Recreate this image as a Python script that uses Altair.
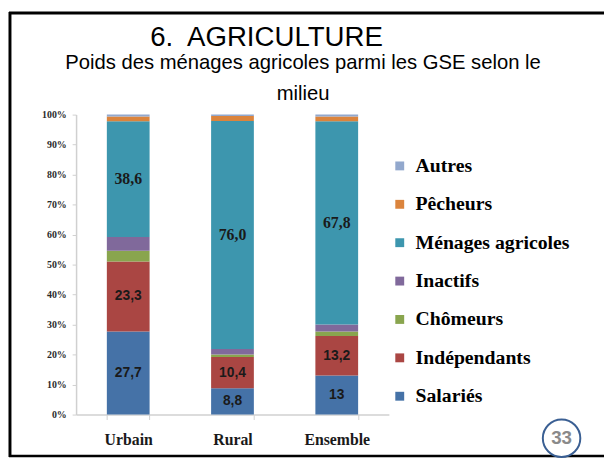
import altair as alt
import pandas as pd

# ---------------- data ----------------
MILIEUX = ["Urbain", "Rural", "Ensemble"]
# stacked from bottom to top
CATEGORIES = ["Salariés", "Indépendants", "Chômeurs", "Inactifs",
              "Ménages agricoles", "Pêcheurs", "Autres"]
URBAIN = [27.7, 23.3, 3.6, 4.6, 38.6, 1.6, 0.6]
RURAL = [8.8, 10.4, 0.8, 1.9, 76.0, 1.6, 0.5]
ENSEMBLE = [13.0, 13.2, 1.5, 2.3, 67.8, 1.6, 0.6]
LABELS_URBAIN = ["27,7", "23,3", "", "", "38,6", "", ""]
LABELS_RURAL = ["8,8", "10,4", "", "", "76,0", "", ""]
LABELS_ENSEMBLE = ["13", "13,2", "", "", "67,8", "", ""]
COLORS = ["#4572A7", "#AA4643", "#89A54E", "#80699B", "#3D96AE", "#DB843D", "#92A8CD"]
Y_TICKS = [0, 10, 20, 30, 40, 50, 60, 70, 80, 90, 100]

TITLE = "6.\u00a0 AGRICULTURE"
SUBTITLE = ["Poids des ménages agricoles parmi les GSE selon le", "milieu"]
PAGE_NUMBER = "33"

rows = []
for milieu, vals, labs in zip(MILIEUX, [URBAIN, RURAL, ENSEMBLE],
                              [LABELS_URBAIN, LABELS_RURAL, LABELS_ENSEMBLE]):
    for i, (cat, v, lab) in enumerate(zip(CATEGORIES, vals, labs)):
        rows.append({"milieu": milieu, "categorie": cat, "valeur": v,
                     "ordre": i, "label": lab})
df = pd.DataFrame(rows)
one = pd.DataFrame({"k": [0]})

# ---------------- chart ----------------
base = alt.Chart(df).transform_stack(
    stack="valeur", groupby=["milieu"], as_=["y0", "y1"],
    sort=[alt.SortField("ordre", order="ascending")]
).transform_calculate(mid="(datum.y0 + datum.y1) / 2")

x_axis = alt.Axis(title=None, labelAngle=0, labelFont="Liberation Serif",
                  labelFontWeight="bold", labelFontSize=16, labelColor="#1a1a1a",
                  labelBaseline="alphabetic", labelPadding=25, tickBand="extent",
                  tickSize=5, tickColor="#d0d0d0", domainColor="#d0d0d0",
                  domainWidth=1.5)
x_scale = alt.Scale(paddingInner=0.59, paddingOuter=0.295)

y_axis = alt.Axis(title=None, values=Y_TICKS, labelExpr="datum.value + '%'",
                  labelFont="Liberation Serif", labelFontWeight="bold",
                  labelFontSize=10, labelColor="#2a2a2a", tickSize=4,
                  tickColor="#d0d0d0", domainColor="#d0d0d0", labelOverlap=False,
                  domainWidth=1.5, labelPadding=6, grid=False)
y_scale = alt.Scale(domain=[0, 100], nice=False)

bars = base.mark_bar().encode(
    x=alt.X("milieu:N", sort=MILIEUX, title=None, scale=x_scale, axis=x_axis),
    y=alt.Y("y0:Q", title=None, scale=y_scale, axis=y_axis),
    y2="y1:Q",
    color=alt.Color("categorie:N",
                    scale=alt.Scale(domain=CATEGORIES[::-1], range=COLORS[::-1]),
                    legend=alt.Legend(title=None, orient="none", legendX=318, legendY=42,
                                      symbolType="square", symbolSize=81,
                                      symbolStrokeWidth=0,
                                      labelFont="Liberation Serif", labelFontWeight="bold",
                                      labelFontSize=20, labelColor="black", labelOffset=6,
                                      rowPadding=18.9, labelLimit=300, padding=0)),
)

labels_sans = base.transform_filter(
    "datum.label != '' && datum.categorie != 'Ménages agricoles'"
).mark_text(font="Liberation Sans", fontWeight="bold", fontSize=14,
            color="#1a1a1a", baseline="middle").encode(
    x=alt.X("milieu:N", sort=MILIEUX, title=None, scale=x_scale, axis=x_axis),
    y=alt.Y("mid:Q", title=None, scale=y_scale, axis=y_axis),
    text="label:N",
)

labels_serif = base.transform_filter(
    "datum.categorie == 'Ménages agricoles'"
).mark_text(font="Liberation Serif", fontWeight="bold", fontSize=16,
            color="#1a1a1a", baseline="middle").encode(
    x=alt.X("milieu:N", sort=MILIEUX, title=None, scale=x_scale, axis=x_axis),
    y=alt.Y("mid:Q", title=None, scale=y_scale, axis=y_axis),
    text="label:N",
)

title = alt.Chart(one).mark_text(font="Liberation Sans", fontSize=28, color="black",
                                 align="center", baseline="alphabetic").encode(
    x=alt.value(193), y=alt.value(-70), text=alt.value(TITLE))

subtitle = alt.Chart(one).mark_text(font="Liberation Sans", fontSize=20.5, color="black",
                                    align="center", baseline="alphabetic",
                                    lineHeight=31).encode(
    x=alt.value(230), y=alt.value(-46), text=alt.value(SUBTITLE))

frame_left = alt.Chart(one).mark_rule(color="black", strokeWidth=3).encode(
    x=alt.value(-67), y=alt.value(-104), y2=alt.value(347))
frame_top = alt.Chart(one).mark_rule(color="black", strokeWidth=3).encode(
    x=alt.value(-68), x2=alt.value(540), y=alt.value(-103))
frame_bottom = alt.Chart(one).mark_rule(color="black", strokeWidth=2.5).encode(
    x=alt.value(-68), x2=alt.value(540), y=alt.value(346))

circle = alt.Chart(one).mark_point(shape="circle", size=1444, fill="white",
                                   fillOpacity=1, stroke="#3A5F93", strokeWidth=2,
                                   opacity=1).encode(
    x=alt.value(492), y=alt.value(328))
page_num = alt.Chart(one).mark_text(font="Liberation Sans", fontWeight="bold",
                                    fontSize=19, color="#8a8a8a", align="center",
                                    baseline="middle").encode(
    x=alt.value(492), y=alt.value(328), text=alt.value(PAGE_NUMBER))

chart = alt.layer(
    bars, labels_sans, labels_serif, title, subtitle,
    frame_left, frame_top, frame_bottom, circle, page_num
).properties(
    width=317, height=304,
    padding={"left": 69, "top": 105, "right": 218, "bottom": 44},
    autosize=alt.AutoSizeParams(type="none"),
    background="white",
).configure_view(stroke=None).configure_axisY(labelOverlap=False)

chart.save("out.html", embed_options={"renderer": "svg", "actions": False})
